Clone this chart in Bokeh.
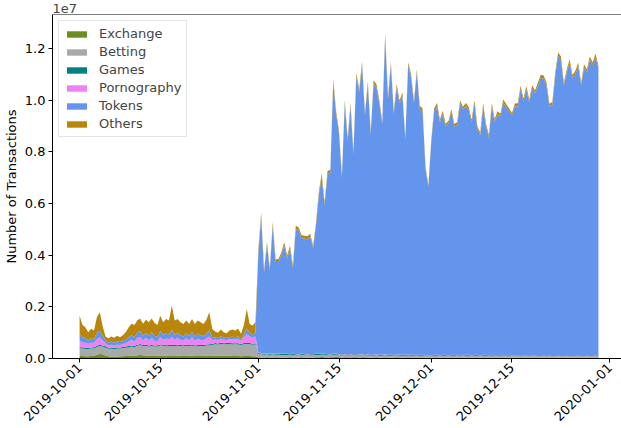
import pandas as pd
from bokeh.plotting import figure
from bokeh.models import ColumnDataSource, Range1d, FixedTicker, Span
from bokeh.embed import file_html
from bokeh.resources import INLINE

SERIES = ["Exchange", "Betting", "Games", "Pornography", "Tokens", "Others"]
COLORS = ["#6b8e23", "#a9a9a9", "#008080", "#ee82ee", "#6495ed", "#b8860b"]
START, END = "2019-10-01", "2019-12-30"   # 12-hourly samples
X_TICK_LABELS = ["2019-10-01", "2019-10-15", "2019-11-01", "2019-11-15",
                 "2019-12-01", "2019-12-15", "2020-01-01"]
Y_TICKS = [0, 2e6, 4e6, 6e6, 8e6, 10e6, 12e6]
Y_TICK_LABELS = ["0.0", "0.2", "0.4", "0.6", "0.8", "1.0", "1.2"]
Y_OFFSET_TEXT = "1e7"

# values in millions of transactions
exchange = [
    0.10, 0.10, 0.09, 0.09, 0.10, 0.11, 0.15, 0.17, 0.16,
    0.12, 0.09, 0.08, 0.08, 0.08, 0.09, 0.09, 0.10,
    0.10, 0.11, 0.10, 0.13, 0.14, 0.13, 0.12, 0.11, 0.10, 0.10, 0.11, 0.12, 0.12, 0.11,
    0.10, 0.10, 0.10, 0.11, 0.11, 0.10, 0.10, 0.11, 0.11, 0.10, 0.10, 0.10, 0.10, 0.11, 0.10,
    0.10, 0.12, 0.12, 0.12, 0.12, 0.11, 0.11, 0.10, 0.10, 0.10, 0.09, 0.10, 0.10, 0.10, 0.09, 0.09,
    0.05, 0.04, 0.04, 0.05, 0.04, 0.04, 0.05, 0.04, 0.04, 0.04,
    0.04, 0.05, 0.04, 0.04, 0.04, 0.05, 0.04, 0.04, 0.04, 0.04,
    0.05, 0.05, 0.06, 0.05, 0.04, 0.05, 0.05, 0.06, 0.05, 0.04,
    0.05, 0.05, 0.04, 0.05, 0.05, 0.04, 0.05, 0.05, 0.04, 0.04,
    0.04, 0.05, 0.04, 0.04, 0.05, 0.04, 0.04, 0.04, 0.05, 0.04,
    0.04, 0.04, 0.05, 0.04, 0.04, 0.04, 0.04, 0.04, 0.03, 0.03,
    0.04, 0.04, 0.04, 0.03, 0.04, 0.04, 0.03, 0.04, 0.04, 0.03,
    0.04, 0.03, 0.04, 0.04, 0.03, 0.04, 0.04, 0.03, 0.04, 0.04,
    0.03, 0.04, 0.04, 0.03, 0.04, 0.04, 0.03, 0.04, 0.04, 0.03,
    0.04, 0.04, 0.03, 0.04, 0.04, 0.03, 0.04, 0.04, 0.03, 0.04,
    0.04, 0.03, 0.04, 0.04, 0.03, 0.04, 0.04, 0.03, 0.04, 0.04,
    0.03, 0.04, 0.04, 0.03, 0.04, 0.04, 0.03, 0.04, 0.04,
]
betting = [
    0.30, 0.29, 0.28, 0.28, 0.29, 0.28, 0.30, 0.31, 0.30,
    0.30, 0.29, 0.30, 0.29, 0.30, 0.30, 0.31, 0.32,
    0.33, 0.35, 0.34, 0.36, 0.37, 0.35, 0.36, 0.35, 0.37, 0.36, 0.35, 0.38, 0.37, 0.36,
    0.37, 0.38, 0.37, 0.38, 0.36, 0.37, 0.38, 0.37, 0.38, 0.36, 0.37, 0.38, 0.37, 0.39, 0.40,
    0.42, 0.43, 0.42, 0.44, 0.43, 0.44, 0.45, 0.44, 0.45, 0.44, 0.43, 0.45, 0.46, 0.45, 0.44, 0.45,
    0.13, 0.12, 0.11, 0.11, 0.10, 0.12, 0.10, 0.11, 0.10, 0.10,
    0.10, 0.09, 0.10, 0.09, 0.09, 0.10, 0.09, 0.09, 0.09, 0.09,
    0.09, 0.09, 0.09, 0.10, 0.09, 0.08, 0.10, 0.09, 0.08, 0.09,
    0.08, 0.08, 0.08, 0.09, 0.08, 0.08, 0.08, 0.08, 0.08, 0.07,
    0.07, 0.08, 0.07, 0.07, 0.08, 0.07, 0.07, 0.07, 0.08, 0.07,
    0.07, 0.07, 0.07, 0.07, 0.07, 0.07, 0.07, 0.07, 0.06, 0.06,
    0.07, 0.07, 0.07, 0.06, 0.07, 0.07, 0.06, 0.07, 0.07, 0.06,
    0.07, 0.06, 0.07, 0.07, 0.06, 0.07, 0.07, 0.06, 0.07, 0.07,
    0.06, 0.07, 0.07, 0.06, 0.07, 0.07, 0.06, 0.07, 0.06, 0.06,
    0.07, 0.06, 0.06, 0.07, 0.06, 0.06, 0.07, 0.06, 0.07, 0.06,
    0.06, 0.07, 0.06, 0.06, 0.07, 0.06, 0.06, 0.07, 0.06, 0.06,
    0.07, 0.06, 0.06, 0.07, 0.06, 0.06, 0.07, 0.06, 0.06,
]
games = [
    0.04, 0.05, 0.04, 0.05, 0.04, 0.05, 0.04, 0.05, 0.04,
    0.05, 0.04, 0.05, 0.04, 0.05, 0.04, 0.05, 0.04,
    0.05, 0.04, 0.05, 0.04, 0.05, 0.04, 0.05, 0.04, 0.05, 0.04, 0.05, 0.04, 0.05, 0.04,
    0.05, 0.04, 0.05, 0.04, 0.05, 0.04, 0.05, 0.04, 0.05, 0.04, 0.05, 0.04, 0.05, 0.04, 0.05,
    0.04, 0.05, 0.04, 0.05, 0.04, 0.05, 0.04, 0.05, 0.04, 0.05, 0.04, 0.05, 0.04, 0.05, 0.04, 0.05,
    0.04, 0.03, 0.03, 0.03, 0.03, 0.03, 0.03, 0.03, 0.03, 0.03,
    0.03, 0.02, 0.03, 0.03, 0.02, 0.03, 0.03, 0.02, 0.03, 0.03,
    0.03, 0.03, 0.02, 0.03, 0.03, 0.02, 0.03, 0.03, 0.02, 0.03,
    0.02, 0.03, 0.03, 0.02, 0.03, 0.03, 0.02, 0.03, 0.03, 0.02,
    0.03, 0.02, 0.03, 0.03, 0.02, 0.03, 0.03, 0.02, 0.03, 0.03,
    0.03, 0.03, 0.02, 0.03, 0.03, 0.02, 0.03, 0.03, 0.02, 0.02,
    0.02, 0.03, 0.03, 0.02, 0.03, 0.03, 0.02, 0.03, 0.03, 0.02,
    0.03, 0.02, 0.03, 0.03, 0.02, 0.03, 0.03, 0.02, 0.03, 0.03,
    0.03, 0.03, 0.02, 0.03, 0.03, 0.02, 0.03, 0.03, 0.02, 0.03,
    0.02, 0.03, 0.03, 0.02, 0.03, 0.03, 0.02, 0.03, 0.03, 0.02,
    0.03, 0.02, 0.03, 0.03, 0.02, 0.03, 0.03, 0.02, 0.03, 0.03,
    0.03, 0.02, 0.03, 0.03, 0.02, 0.03, 0.03, 0.02, 0.03,
]
pornography = [
    0.26, 0.18, 0.20, 0.15, 0.18, 0.16, 0.26, 0.28, 0.20,
    0.12, 0.08, 0.10, 0.08, 0.10, 0.09, 0.11, 0.12,
    0.18, 0.22, 0.16, 0.26, 0.28, 0.18, 0.27, 0.20, 0.28, 0.19, 0.16, 0.30, 0.20, 0.26,
    0.22, 0.32, 0.20, 0.28, 0.20, 0.18, 0.26, 0.18, 0.28, 0.18, 0.25, 0.20, 0.18, 0.24, 0.30,
    0.16, 0.14, 0.12, 0.16, 0.14, 0.12, 0.15, 0.16, 0.15, 0.17, 0.12, 0.22, 0.34, 0.25, 0.22, 0.26,
    0.03, 0.02, 0.01, 0.01, 0.02, 0.01, 0.01, 0.01, 0.01, 0.01,
    0.01, 0.01, 0.01, 0.01, 0.01, 0.01, 0.01, 0.01, 0.01, 0.01,
    0.01, 0.01, 0.01, 0.01, 0.01, 0.01, 0.01, 0.01, 0.01, 0.01,
    0.01, 0.01, 0.01, 0.01, 0.01, 0.01, 0.01, 0.01, 0.01, 0.01,
    0.01, 0.01, 0.01, 0.01, 0.01, 0.01, 0.01, 0.01, 0.01, 0.01,
    0.01, 0.01, 0.01, 0.01, 0.01, 0.01, 0.01, 0.01, 0.01, 0.01,
    0.01, 0.01, 0.01, 0.01, 0.01, 0.01, 0.01, 0.01, 0.01, 0.01,
    0.01, 0.01, 0.01, 0.01, 0.01, 0.01, 0.01, 0.01, 0.01, 0.01,
    0.01, 0.01, 0.01, 0.01, 0.01, 0.01, 0.01, 0.01, 0.01, 0.01,
    0.01, 0.01, 0.01, 0.01, 0.01, 0.01, 0.01, 0.01, 0.01, 0.01,
    0.01, 0.01, 0.01, 0.01, 0.01, 0.01, 0.01, 0.01, 0.01, 0.01,
    0.01, 0.01, 0.01, 0.01, 0.01, 0.01, 0.01, 0.01, 0.01,
]
tokens = [
    0.26, 0.20, 0.18, 0.14, 0.16, 0.15, 0.24, 0.26, 0.18,
    0.12, 0.12, 0.13, 0.12, 0.13, 0.12, 0.13, 0.14,
    0.16, 0.18, 0.17, 0.20, 0.22, 0.18, 0.20, 0.18, 0.22, 0.18, 0.16, 0.22, 0.18, 0.20,
    0.18, 0.26, 0.18, 0.20, 0.18, 0.16, 0.20, 0.18, 0.22, 0.17, 0.20, 0.18, 0.16, 0.18, 0.24,
    0.10, 0.08, 0.08, 0.09, 0.08, 0.07, 0.08, 0.09, 0.08, 0.09, 0.07, 0.10, 0.22, 0.14, 0.12, 0.14,
    3.80, 5.30, 3.14, 4.18, 3.22, 4.95, 3.55, 3.55, 3.83, 4.20,
    3.70, 4.08, 3.32, 4.85, 4.80, 4.48, 4.48, 4.45, 4.55, 4.10,
    4.95, 6.15, 6.85, 5.75, 6.95, 7.05, 10.50, 9.25, 8.55, 6.82,
    9.72, 8.25, 9.60, 7.75, 10.75, 10.15, 11.20, 9.25, 10.45, 8.55,
    10.50, 10.33, 9.73, 8.93, 12.30, 9.90, 11.20, 9.33, 10.33, 9.73,
    10.03, 8.33, 11.20, 10.73, 9.73, 10.93, 9.53, 9.43, 7.23, 6.53,
    8.23, 9.43, 9.63, 9.03, 9.33, 8.83, 8.98, 9.41, 8.83, 8.93,
    9.73, 9.53, 9.63, 9.48, 9.02, 9.73, 8.73, 8.53, 9.63, 8.83,
    8.43, 9.63, 9.03, 9.33, 9.23, 9.78, 9.60, 9.43, 9.28, 9.63,
    9.63, 10.30, 9.83, 10.28, 9.78, 10.33, 10.13, 10.43, 10.73, 10.71,
    10.43, 9.63, 9.68, 10.81, 11.59, 11.43, 10.43, 10.93, 11.33, 10.73,
    10.88, 11.20, 10.43, 11.13, 10.94, 11.43, 11.20, 11.55, 11.07,
]
others = [
    0.70, 0.48, 0.42, 0.31, 0.38, 0.33, 0.61, 0.72, 0.37,
    0.14, 0.16, 0.19, 0.19, 0.22, 0.18, 0.21, 0.30,
    0.38, 0.45, 0.48, 0.48, 0.49, 0.47, 0.50, 0.52, 0.53, 0.51, 0.47, 0.60, 0.48, 0.56,
    0.55, 0.95, 0.57, 0.52, 0.50, 0.49, 0.48, 0.46, 0.49, 0.49, 0.50, 0.50, 0.48, 0.54, 0.70,
    0.33, 0.23, 0.22, 0.26, 0.21, 0.19, 0.25, 0.28, 0.26, 0.30, 0.21, 0.38, 0.76, 0.35, 0.37, 0.41,
    0.14, 0.13, 0.10, 0.12, 0.10, 0.13, 0.10, 0.11, 0.10, 0.12,
    0.11, 0.12, 0.10, 0.12, 0.11, 0.11, 0.10, 0.12, 0.11, 0.10,
    0.11, 0.13, 0.14, 0.12, 0.13, 0.12, 0.14, 0.13, 0.12, 0.10,
    0.13, 0.11, 0.12, 0.10, 0.13, 0.12, 0.13, 0.11, 0.12, 0.10,
    0.12, 0.12, 0.11, 0.10, 0.13, 0.11, 0.12, 0.10, 0.12, 0.11,
    0.12, 0.10, 0.12, 0.12, 0.11, 0.12, 0.11, 0.10, 0.08, 0.08,
    0.09, 0.11, 0.11, 0.10, 0.11, 0.10, 0.11, 0.10, 0.10, 0.11,
    0.11, 0.10, 0.11, 0.11, 0.10, 0.12, 0.10, 0.10, 0.11, 0.10,
    0.10, 0.11, 0.10, 0.11, 0.10, 0.11, 0.12, 0.11, 0.10, 0.11,
    0.11, 0.12, 0.11, 0.12, 0.11, 0.12, 0.11, 0.12, 0.12, 0.12,
    0.11, 0.10, 0.11, 0.12, 0.13, 0.12, 0.11, 0.12, 0.12, 0.11,
    0.12, 0.12, 0.11, 0.12, 0.12, 0.12, 0.12, 0.13, 0.12,
]

dates = pd.date_range(START, END, freq="12h")
cols = dict(zip(SERIES, [exchange, betting, games, pornography, tokens, others]))
for k, v in cols.items():
    if len(v) != len(dates):
        raise ValueError(f"{k}: {len(v)} values, expected {len(dates)}")

data = {"x": dates}
for k, v in cols.items():
    data[k] = [val * 1e6 for val in v]
source = ColumnDataSource(data)

day_ms = 86400000.0
t0 = pd.Timestamp(START).value / 1e6
x_start = t0 - 4.7 * day_ms
x_end = t0 + 94.0 * day_ms
y_end = 1.332e7

FONT = "DejaVu Sans"
p = figure(width=621, height=428, x_axis_type="datetime",
           output_backend="svg", toolbar_location=None,
           x_range=Range1d(x_start, x_end), y_range=Range1d(0, y_end),
           min_border_left=0, min_border_right=0, min_border_top=0,
           min_border_bottom=0, title=Y_OFFSET_TEXT)
p.title.text_font = FONT
p.title.text_font_size = "13px"
p.title.text_font_style = "normal"
p.title.align = "left"
p.title.offset = 0
p.title.standoff = 3

p.varea_stack(stackers=SERIES, x="x", source=source, color=COLORS,
              legend_label=SERIES)

tick_ms = [pd.Timestamp(s).value / 1e6 for s in X_TICK_LABELS]
p.xaxis.ticker = FixedTicker(ticks=tick_ms)
p.xaxis.major_label_overrides = {t: s for t, s in zip(tick_ms, X_TICK_LABELS)}
p.xaxis.major_label_orientation = 0.785398
p.yaxis.ticker = FixedTicker(ticks=Y_TICKS)
p.yaxis.major_label_overrides = {t: s for t, s in zip(Y_TICKS, Y_TICK_LABELS)}
p.yaxis.axis_label = "Number of Transactions"

for ax in (p.xaxis, p.yaxis):
    ax.major_label_text_font = FONT
    ax.major_label_text_font_size = "13px"
    ax.major_label_text_color = "black"
    ax.axis_label_text_font = FONT
    ax.axis_label_text_font_size = "13px"
    ax.axis_label_text_font_style = "normal"
    ax.axis_label_text_color = "black"
    ax.axis_line_color = "black"
    ax.major_tick_line_color = "black"
    ax.major_tick_out = 4
    ax.major_tick_in = 0
    ax.minor_tick_line_color = None
    ax.major_label_standoff = 3
p.yaxis.axis_label_standoff = 3

p.xgrid.grid_line_color = None
p.ygrid.grid_line_color = None
p.outline_line_color = None
p.background_fill_color = "white"
p.border_fill_color = "white"

# top spine only (the reference shows no right spine)
p.add_layout(Span(location=y_end, dimension="width", line_color="black",
                  line_width=1.2))

lg = p.legend[0]
lg.location = "top_left"
lg.margin = 6
lg.padding = 5
lg.spacing = 3
lg.label_standoff = 10
lg.glyph_width = 25
lg.glyph_height = 8
lg.label_height = 14
lg.label_text_font = FONT
lg.label_text_font_size = "13px"
lg.border_line_color = "#cccccc"
lg.background_fill_alpha = 0.8

open("out.html", "w").write(file_html(p, INLINE))
